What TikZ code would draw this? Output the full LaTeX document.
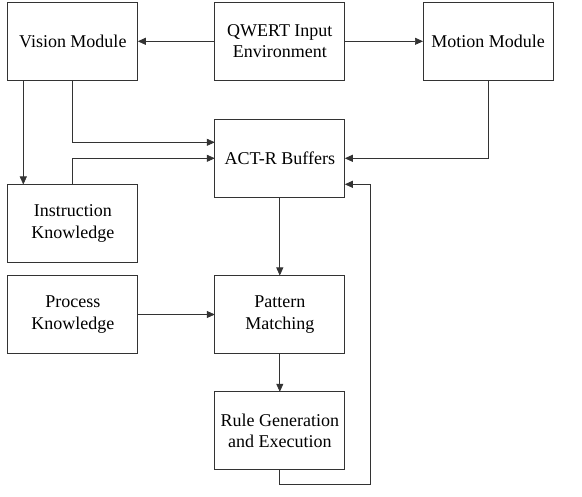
\documentclass[tikz,border=0pt]{standalone}
\usepackage{fontspec}
\setmainfont{Liberation Serif}
\usetikzlibrary{arrows.meta}
\begin{document}
\begin{tikzpicture}[x=1pt, y=-1pt, >={Triangle[length=8pt,width=7pt]},
    module/.style={draw=black!80, line width=0.7pt, minimum width=130pt, minimum height=78pt,
        inner sep=0pt, outer sep=0pt, align=center, font=\fontsize{18}{21.5}\selectfont},
    link/.style={->, draw=black!80, line width=0.7pt}]

        \useasboundingbox (0,0) rectangle (582,497);

        % --- Modules ---
        \node[module] (vision)  at (72.8,41.3)  {Vision Module};
        \node[module] (qwert)   at (279.8,41.3) {QWERT Input\\Environment};
        \node[module] (motion)  at (488,41.3)   {Motion Module};
        \node[module] (actr)    at (279.8,158.3){ACT-R Buffers};
        \node[module] (instr)   at (72.8,223.5) {Instruction\\Knowledge};
        \node[module] (process) at (72.8,314.5) {Process\\Knowledge};
        \node[module] (pattern) at (279.8,314.5){Pattern\\Matching};
        \node[module] (rule)    at (279.8,430.8){Rule Generation\\and Execution};

        % --- Input to modules ---
        \draw[link] (qwert) -- (vision);
        \draw[link] (qwert) -- (motion);

        % --- Into the buffers ---
        \draw[link] ([xshift=-49.5pt]vision.south) -- ([xshift=-49.5pt]instr.north);
        \draw[link] (vision.south) |- ([yshift=16pt]actr.west);
        \draw[link] (instr.north) |- (actr.west);
        \draw[link] (motion.south) |- (actr.east);

        % --- Production cycle ---
        \draw[link] (actr) -- (pattern);
        \draw[link] (process) -- (pattern);
        \draw[link] (pattern) -- (rule);

        % --- Feedback loop ---
        \coordinate (loop) at (370,484.7);
        \draw[link] (rule.south) |- (loop) |- ([yshift=-26pt]actr.east);

    \end{tikzpicture}
\end{document}
